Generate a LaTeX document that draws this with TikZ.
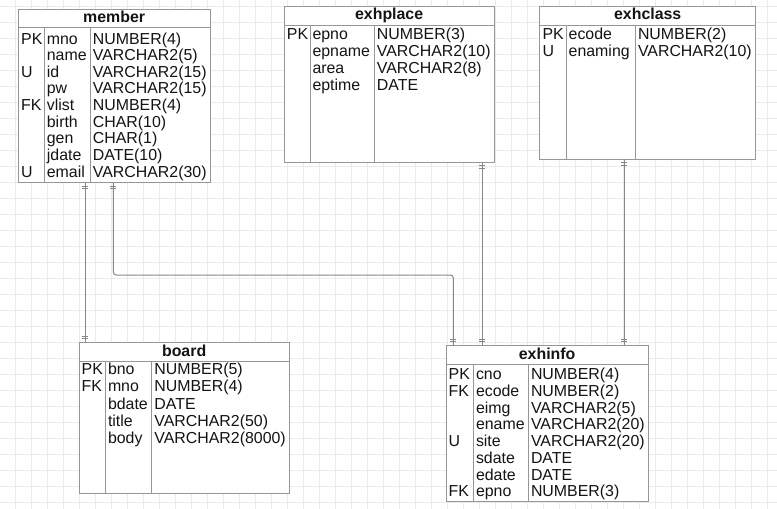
\documentclass[tikz,border=0pt]{standalone}
\usepackage{fontspec}
\setmainfont{Liberation Sans}
\definecolor{gridc}{RGB}{235,235,235}
\definecolor{bord}{RGB}{150,150,150}
\definecolor{conn}{RGB}{135,135,135}
\definecolor{txt}{RGB}{20,20,20}
\tikzset{
  tbl/.style={draw=bord, fill=white, line width=1pt, anchor=north west, inner sep=0pt, outer sep=0pt},
  cell/.style={anchor=base west, inner sep=0pt, text=txt, font=\fontsize{15.9}{17}\selectfont},
  ttl/.style={anchor=base, inner sep=0pt, text=txt, font=\fontsize{15.9}{17}\selectfont\bfseries},
  colsep/.style={draw=bord, line width=1pt},
  rel/.style={draw=conn, line width=1pt, rounded corners=3pt},
  tickmark/.style={draw=conn, line width=0.8pt},
  gridline/.style={draw=gridc, line width=1pt}
}
% table frame: name, x1, y1, x2, y2, separator y, column 1 x, column 2 x
\newcommand\ertab[8]{%
  \node[tbl, minimum width={(#4-#2)*1pt}, minimum height={(#5-#3)*1pt}] (#1) at (#2,#3) {};
  \draw[colsep] (#2,#6) -- (#4,#6) (#7,#6) -- (#7,#5) (#8,#6) -- (#8,#5);
}
% rows: name, x key, x field, x type, first baseline, spacing, list
\newcommand\errows[7]{%
  \foreach \k/\n/\t [count=\i] in {#7} {
    \node[cell] (#1-k\i) at (#2,{#5+(\i-1)*#6}) {\k};
    \node[cell] (#1-n\i) at (#3,{#5+(\i-1)*#6}) {\n};
    \node[cell] (#1-t\i) at (#4,{#5+(\i-1)*#6}) {\t};
  }%
}
% two ticks of a one-and-only-one end: coordinate name, direction (+1 down, -1 up)
\newcommand\onemark[2]{%
  \draw[tickmark] ([shift={(-3,3.5*#2)}]#1) -- ++(6,0);
  \draw[tickmark] ([shift={(-3,6*#2)}]#1) -- ++(6,0);
}
\begin{document}
\begin{tikzpicture}[x=1pt,y=-1pt]
\useasboundingbox (0,0) rectangle (777,509);
\fill[white] (0,0) rectangle (777,509);
% background grid
\foreach \gx in {0,...,47} { \draw[gridline] ({15.5+16*\gx},0) -- ({15.5+16*\gx},509); }
\foreach \gy in {0,...,31} { \draw[gridline] (0,{6.5+16*\gy}) -- (777,{6.5+16*\gy}); }

% member
\ertab{member}{18.3}{9.3}{210}{182.7}{27.7}{44.3}{90.3}
\node[ttl] (member-title) at (114.15,22.5) {member};
\errows{member}{21}{46.7}{92.7}{44}{16.65}{PK/mno/NUMBER(4), /name/VARCHAR2(5), U/id/VARCHAR2(15), /pw/VARCHAR2(15), FK/vlist/NUMBER(4), /birth/CHAR(10), /gen/CHAR(1), /jdate/DATE(10), U/email/VARCHAR2(30)}

% exhplace
\ertab{exhplace}{284.3}{6}{494}{162.3}{25.7}{310}{374.3}
\node[ttl] (exhplace-title) at (389.15,19.5) {exhplace};
\errows{exhplace}{286.7}{312.3}{376.7}{39.3}{17}{PK/epno/NUMBER(3), /epname/VARCHAR2(10), /area/VARCHAR2(8), /eptime/DATE}

% exhclass
\ertab{exhclass}{539.7}{6}{755.7}{159}{25.7}{566}{635.3}
\node[ttl] (exhclass-title) at (647.7,19.5) {exhclass};
\errows{exhclass}{542.3}{568.5}{637.8}{39.5}{17}{PK/ecode/NUMBER(2), U/enaming/VARCHAR2(10)}

% board
\ertab{board}{79}{342.3}{289.3}{493.3}{361.7}{105.3}{151.7}
\node[ttl] (board-title) at (184.15,356) {board};
\errows{board}{81.5}{107.8}{154.2}{374.8}{17.1}{PK/bno/NUMBER(5), FK/mno/NUMBER(4), /bdate/DATE, /title/VARCHAR2(50), /body/VARCHAR2(8000)}

% exhinfo
\ertab{exhinfo}{446}{345}{648.3}{501.7}{364.3}{473.3}{528.3}
\node[ttl] (exhinfo-title) at (547.15,359) {exhinfo};
\errows{exhinfo}{448.5}{475.8}{530.8}{379.5}{16.75}{PK/cno/NUMBER(4), FK/ecode/NUMBER(2), /eimg/VARCHAR2(5), /ename/VARCHAR2(20), U/site/VARCHAR2(20), /sdate/DATE, /edate/DATE, FK/epno/NUMBER(3)}

% connector guides
\coordinate (gA) at (85.3,0);
\coordinate (gB) at (113.3,0);
\coordinate (gC) at (453.3,0);
\coordinate (gD) at (482,0);
\coordinate (gE) at (624.3,0);
\coordinate (bend) at (0,275);

\coordinate (a1) at (member.south -| gA);
\coordinate (a2) at (board.north -| gA);
\coordinate (b1) at (member.south -| gB);
\coordinate (b2) at (exhinfo.north -| gC);
\coordinate (d1) at (exhplace.south -| gD);
\coordinate (d2) at (exhinfo.north -| gD);
\coordinate (e1) at (exhclass.south -| gE);
\coordinate (e2) at (exhinfo.north -| gE);

\draw[rel] (a1) -- (a2);
\draw[rel] (b1) -- (b1 |- bend) -- (b2 |- bend) -- (b2);
\draw[rel] (d1) -- (d2);
\draw[rel] (e1) -- (e2);

\onemark{a1}{1} \onemark{a2}{-1}
\onemark{b1}{1} \onemark{b2}{-1}
\onemark{d1}{1} \onemark{d2}{-1}
\onemark{e1}{1} \onemark{e2}{-1}
\end{tikzpicture}
\end{document}
